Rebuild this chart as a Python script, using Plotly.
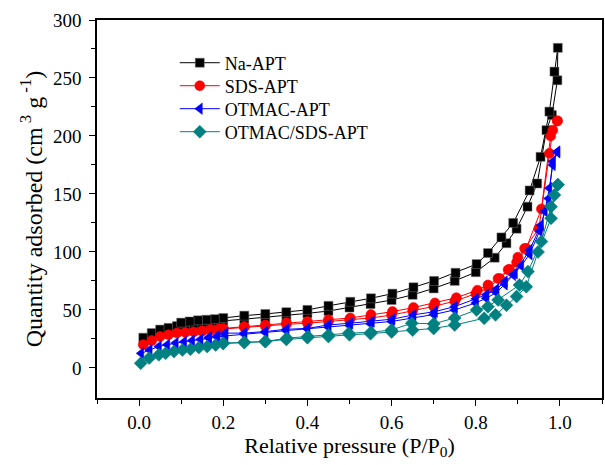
import plotly.graph_objects as go

# ---- data ----
na_ads_x = [0.01,0.03,0.05,0.07,0.09,0.11,0.13,0.15,0.17,0.19,0.20,0.25,0.30,0.35,0.40,0.45,0.50,0.55,0.60,0.65,0.70,0.75,0.80,0.845,0.873,0.897,0.923,0.946,0.968,0.981,0.994]
na_ads_y = [26,30,33,34.5,36,37,37.5,38.5,39,40,40.5,42,43.5,45,47,49,52,55,58.5,63,68.5,75,82.5,95,107.5,120,139,159,205,218,248]
na_des_x = [0.995,0.987,0.975,0.954,0.928,0.889,0.861,0.829,0.802,0.752,0.701,0.652,0.602,0.551,0.502,0.45,0.40,0.35,0.30,0.25,0.20,0.18,0.16,0.14,0.12,0.10]
na_des_y = [276,255.5,221,182,153,125,112.5,99,89.5,82,75,69.5,64,60,57,53.5,50,48,46.5,45,43,42,41.5,41,40,39]

sds_ads_x = [0.01,0.03,0.05,0.07,0.09,0.11,0.13,0.15,0.17,0.19,0.20,0.25,0.30,0.35,0.40,0.45,0.50,0.55,0.60,0.65,0.70,0.75,0.80,0.83,0.857,0.88,0.90,0.916,0.95,0.975,0.983,0.994]
sds_ads_y = [20,23.5,27,28.5,30,30.5,31,31.5,32.5,33,33.5,35,36,37.5,38.5,40,41.5,43,45.5,49,53,57.5,64,69,77,85,95.4,103,120,185,205,213]
sds_des_x = [0.994,0.978,0.956,0.92,0.897,0.877,0.853,0.829,0.804,0.754,0.703,0.652,0.602,0.551,0.502,0.45,0.40,0.35,0.30,0.25,0.20,0.19,0.17,0.15]
sds_des_y = [213,200,137,103,91,84.5,77,71.5,67,60.5,56,52,48.5,46,43,41.5,40,39,37,35.6,34,33.5,33,32]

otm_ads_x = [0.005,0.025,0.047,0.067,0.087,0.107,0.126,0.146,0.166,0.186,0.205,0.25,0.30,0.35,0.40,0.45,0.50,0.55,0.60,0.65,0.70,0.75,0.80,0.825,0.849,0.869,0.889,0.908,0.928,0.952,0.964,0.975,0.983,0.994]
otm_ads_y = [12.5,15.5,18.5,20,21.5,22.5,23.5,24.5,25.5,26.5,27.5,29,30.5,32,33.5,35,36.5,38,40,43,46,50,56,60,65,72,80,88,98,118,135,155,175,186]
otm_des_x = [0.994,0.983,0.973,0.955,0.928,0.893,0.869,0.849,0.825,0.80,0.75,0.703,0.652,0.602,0.553,0.502,0.45,0.40,0.35,0.30,0.25,0.205,0.186,0.166]
otm_des_y = [186.5,178,146,123,101.7,81.6,74.4,67.8,63,59.5,52.8,48.5,45.7,42,40,38.5,37,34,33.3,31.3,30,29.9,27.6,26.4]

mix_ads_x = [0.004,0.024,0.047,0.063,0.083,0.103,0.122,0.142,0.162,0.182,0.20,0.25,0.30,0.35,0.40,0.45,0.50,0.55,0.60,0.65,0.70,0.75,0.82,0.847,0.873,0.897,0.92,0.948,0.979,0.987,0.995]
mix_ads_y = [4,8.4,11.2,12.6,14,15.5,16,17.5,18.4,19.8,21,21.8,22.7,24.5,26,27,28.5,29.5,31,32.7,34,37,42.8,45.7,54,61.5,70,100,129,149,158]
mix_des_x = [0.995,0.979,0.956,0.924,0.904,0.853,0.829,0.802,0.75,0.70,0.648,0.60,0.551,0.498,0.45,0.401,0.351,0.30,0.25,0.20]
mix_des_y = [158,139,109,83,71.5,58.6,52.8,50,43,38,38.5,32.7,30.7,29.9,28.4,27,25.6,22.7,22,21.3]

names = ["Na-APT", "SDS-APT", "OTMAC-APT", "OTMAC/SDS-APT"]
colors = ["#000000", "#FF0000", "#0000FF", "#008080"]
symbols = ["square", "circle", "triangle-left", "diamond"]
sizes = [9, 10, 10, 10]

series = [
    (na_ads_x + na_des_x, na_ads_y + na_des_y),
    (sds_ads_x + sds_des_x, sds_ads_y + sds_des_y),
    (otm_ads_x + otm_des_x, otm_ads_y + otm_des_y),
    (mix_ads_x + mix_des_x, mix_ads_y + mix_des_y),
]

font = "Liberation Serif, Times New Roman, serif"
legend_ids = ["legend", "legend2", "legend3", "legend4"]
legend_rows = [0.8862, 0.8254, 0.7646, 0.7037]

fig = go.Figure()
for (xs, ys), n, c, s, sz, lg in zip(series, names, colors, symbols, sizes, legend_ids):
    fig.add_trace(go.Scatter(
        x=xs, y=ys, mode="lines+markers", name=n, legend=lg,
        line=dict(color=c, width=1),
        marker=dict(symbol=s, size=sz, color=c,
                    line=dict(width=0.5, color="#777777" if c == "#000000" else c)),
    ))

legend_common = dict(x=0.154, xanchor="left", yanchor="middle",
                     bgcolor="rgba(0,0,0,0)", borderwidth=0,
                     font=dict(family=font, size=18, color="black"), itemwidth=40)
layout_legends = {}
for lg, yv in zip(legend_ids, legend_rows):
    layout_legends[lg] = dict(legend_common, y=yv)

fig.update_layout(
    width=605, height=465,
    margin=dict(l=97, r=1, t=20, b=67),
    paper_bgcolor="white", plot_bgcolor="white",
    font=dict(family=font, size=18, color="black"),
    showlegend=True,
    **layout_legends,
)
fig.update_xaxes(
    range=[-0.1, 1.1], tickmode="array",
    tickvals=[0.0, 0.2, 0.4, 0.6, 0.8, 1.0],
    ticktext=["0.0", "0.2", "0.4", "0.6", "0.8", "1.0"],
    ticks="outside", ticklen=6, tickwidth=1, tickcolor="black",
    minor=dict(tickvals=[-0.1, 0.1, 0.3, 0.5, 0.7, 0.9, 1.1], ticks="outside", ticklen=4, tickcolor="black"),
    showline=True, linecolor="black", linewidth=1.5, mirror=True,
    showgrid=False, zeroline=False,
    tickfont=dict(size=19),
    title=dict(text="Relative pressure (P/P<sub>0</sub>)", font=dict(size=22), standoff=2),
)
fig.update_yaxes(
    range=[-26, 300], tickmode="array",
    tickvals=[0, 50, 100, 150, 200, 250, 300],
    ticks="outside", ticklen=6, tickwidth=1, tickcolor="black",
    minor=dict(tickvals=[25, 75, 125, 175, 225, 275], ticks="outside", ticklen=4, tickcolor="black"),
    showline=True, linecolor="black", linewidth=1.5, mirror=True,
    showgrid=False, zeroline=False,
    tickfont=dict(size=19), ticklabelstandoff=4,
    title=dict(text="Quantity adsorbed (cm<sup> 3</sup> g<sup> -1</sup>)", font=dict(size=24), standoff=4),
)

fig.write_html("out.html")
